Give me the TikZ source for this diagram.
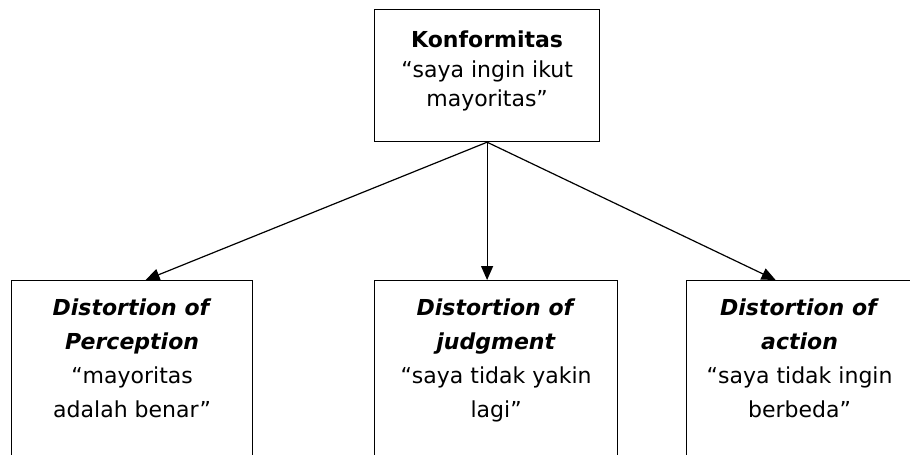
\documentclass[tikz,border=0pt]{standalone}
\usepackage{fontspec}
\setmainfont{DejaVu Sans}
\usetikzlibrary{arrows.meta}
\usetikzlibrary{positioning}
\tikzset{kotak/.style = {draw, line width = 1.2pt, inner sep = 0}}
\tikzset{isi/.style = {align = center, inner sep = 0,
                       font = \fontsize{22}{29.5}\selectfont}}
\tikzset{isibawah/.style = {isi, font = \fontsize{22}{34}\selectfont}}
\tikzset{panah/.style = {line width = 1.2pt,
                         -{Triangle[length = 14pt, width = 12pt]}}}

\begin{document}
\begin{tikzpicture}[x = 1pt, y = -1pt]
  \useasboundingbox (0, 0) rectangle (910, 455);
  \clip (0, 0) rectangle (910, 455);
  % kotak atas
  \node [kotak, anchor = north west, minimum width = 225pt, minimum height = 132pt]
    (konformitas) at (374, 9) {};
  \node [isi, below = 22pt of konformitas.north] (teks konformitas)
    {\textbf{Konformitas}\\“saya ingin ikut\\mayoritas”};
  % kotak bawah
  \node [kotak, anchor = north west, minimum width = 241pt, minimum height = 200pt]
    (persepsi) at (11, 280) {};
  \node [kotak, anchor = north west, minimum width = 243pt, minimum height = 200pt]
    (penilaian) at (374, 280) {};
  \node [kotak, anchor = north west, minimum width = 226pt, minimum height = 200pt]
    (tindakan) at (686, 280) {};
  \node [isibawah, below = 19pt of persepsi.north] (teks persepsi)
    {\textbf{\textit{Distortion of}}\\\textbf{\textit{Perception}}\\“mayoritas\\adalah benar”};
  \node [isibawah, below = 19pt of penilaian.north] (teks penilaian)
    {\textbf{\textit{Distortion of}}\\\textbf{\textit{judgment}}\\“saya tidak yakin\\lagi”};
  \node [isibawah, below = 19pt of tindakan.north] (teks tindakan)
    {\textbf{\textit{Distortion of}}\\\textbf{\textit{action}}\\“saya tidak ingin\\berbeda”};
  % panah
  \draw [panah] (konformitas.south) -- ([xshift = 13.5pt] persepsi.north);
  \draw [panah] (konformitas.south) -- (konformitas.south |- penilaian.north);
  \draw [panah] (konformitas.south) -- ([xshift = -24pt] tindakan.north);
\end{tikzpicture}
\end{document}
